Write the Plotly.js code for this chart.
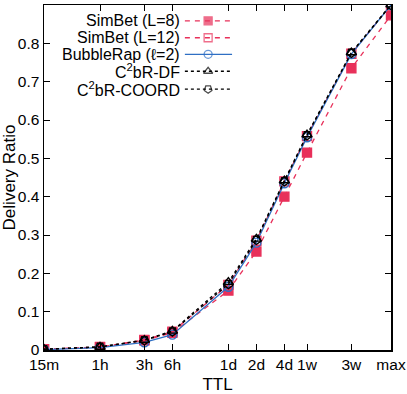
<!DOCTYPE html>
<html>
<head>
<meta charset="utf-8">
<script src="https://cdn.plot.ly/plotly-3.0.1.min.js"></script>
<style>
  html, body { margin: 0; padding: 0; background: white; }
  #chart { width: 407px; height: 394px; }
</style>
</head>
<body>
<div id="chart"></div>
<script>
// TTL in hours (log scale), max ~ 8 weeks
const ttlHours = [0.25, 1, 3, 6, 24, 48, 96, 168, 504, 1344];
const ttlLabels = ['15m', '1h', '3h', '6h', '1d', '2d', '4d', '1w', '3w', 'max'];

const simbet8 = [0.002, 0.007, 0.025, 0.045, 0.155, 0.257, 0.400, 0.515, 0.735, 0.873];
const simbet12 = [0.002, 0.008, 0.026, 0.048, 0.170, 0.285, 0.440, 0.558, 0.773, 0.900];
const bubbleRap = [0.001, 0.006, 0.020, 0.040, 0.165, 0.280, 0.435, 0.555, 0.772, 0.900];
const c2brDF = [0.002, 0.008, 0.026, 0.050, 0.177, 0.290, 0.442, 0.562, 0.776, 0.901];
const c2brCoord = [0.002, 0.008, 0.025, 0.048, 0.172, 0.287, 0.440, 0.560, 0.775, 0.900];

const RED = '#e8305a';
const BLUE = '#2f6fc4';

const seriesDefs = [
    { name: 'SimBet (L=8)', y: simbet8, color: RED, dash: '5px,5px', symbol: 'square', angle: 0 },
    { name: 'SimBet (L=12)', y: simbet12, color: RED, dash: '5px,5px', symbol: 'square-open', angle: 0 },
    { name: 'BubbleRap (ℓ=2)', y: bubbleRap, color: BLUE, dash: 'solid', symbol: 'circle-open', angle: 0 },
    { name: 'C<sup>2</sup>bR-DF', y: c2brDF, color: 'black', dash: 'dot', symbol: 'triangle-up-open', angle: 0 },
    { name: 'C<sup>2</sup>bR-COORD', y: c2brCoord, color: 'black', dash: 'dot', symbol: 'pentagon-open', angle: 180 }
];

const traces = [];
seriesDefs.forEach(s => {
    traces.push({
        x: ttlHours,
        y: s.y,
        type: 'scatter',
        mode: 'lines+markers',
        name: s.name,
        showlegend: false,
        line: { color: s.color, width: 1.3, dash: s.dash },
        marker: { symbol: s.symbol, size: 9, color: s.color, angle: s.angle, line: { color: s.color, width: 1.4 } }
    });
});

// hand-made legend: text on the left, sample on the right
const legX0 = 0.406, legXm = 0.473, legX1 = 0.542, legText = 0.398;
const legRows = [0.954, 0.905, 0.857, 0.808, 0.756];
const annotations = [];
seriesDefs.forEach((s, i) => {
    traces.push({
        x: [legX0, legXm, legX1],
        y: [legRows[i], legRows[i], legRows[i]],
        xaxis: 'x2', yaxis: 'y2',
        type: 'scatter',
        mode: 'lines+markers',
        showlegend: false,
        hoverinfo: 'skip',
        line: { color: s.color, width: 1.3, dash: s.dash },
        marker: {
            symbol: s.symbol, angle: s.angle,
            size: [0, 8, 0],
            color: s.color,
            line: { color: s.color, width: 1.3 }
        }
    });
    annotations.push({
        x: legText, y: legRows[i], xref: 'paper', yref: 'paper',
        text: s.name, showarrow: false, xanchor: 'right', yanchor: 'middle',
        font: { size: 16, color: 'black' }
    });
});

const layout = {
    width: 407,
    height: 394,
    margin: { l: 44, r: 16, t: 5, b: 44 },
    paper_bgcolor: 'white',
    plot_bgcolor: 'white',
    font: { family: 'Liberation Sans, Arial, sans-serif', size: 15.5, color: 'black' },
    xaxis: {
        type: 'log',
        range: [Math.log10(0.25), Math.log10(1344)],
        tickvals: ttlHours,
        ticktext: ttlLabels,
        ticks: 'inside',
        ticklen: 6,
        tickcolor: 'black',
        showgrid: false,
        zeroline: false,
        showline: true,
        linecolor: 'black',
        linewidth: 1.5,
        mirror: 'ticks',
        title: { text: 'TTL', font: { size: 17 }, standoff: 6 }
    },
    yaxis: {
        range: [0, 0.9],
        tickvals: [0, 0.1, 0.2, 0.3, 0.4, 0.5, 0.6, 0.7, 0.8, 0.9],
        ticktext: ['0', '0.1', '0.2', '0.3', '0.4', '0.5', '0.6', '0.7', '0.8', '0.9'],
        ticks: 'inside',
        ticklen: 6,
        tickcolor: 'black',
        showgrid: false,
        zeroline: false,
        showline: true,
        linecolor: 'black',
        linewidth: 1.5,
        mirror: 'ticks',
        title: { text: 'Delivery Ratio', font: { size: 17 }, standoff: 4 }
    },
    xaxis2: { overlaying: 'x', range: [0, 1], visible: false, fixedrange: true },
    yaxis2: { overlaying: 'y', range: [0, 1], visible: false, fixedrange: true },
    annotations: annotations,
    showlegend: false
};

Plotly.newPlot('chart', traces, layout, { displayModeBar: false, staticPlot: true });
</script>
</body>
</html>
